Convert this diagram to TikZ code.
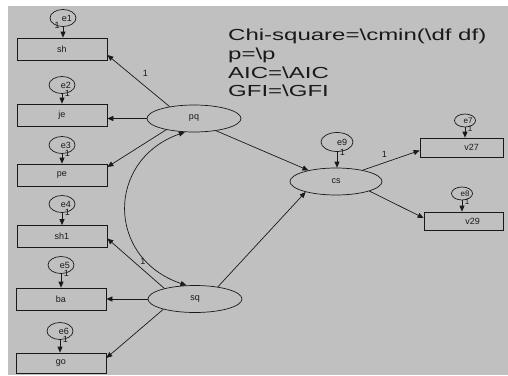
\documentclass[tikz,border=0pt]{standalone}
\usepackage{fontspec}
\setmainfont{Liberation Sans}
\newfontfamily\statfont[FakeStretch=1.5]{Liberation Sans}
\usetikzlibrary{arrows.meta,shapes.geometric}
\definecolor{panel}{RGB}{192,192,192}
\definecolor{ink}{RGB}{25,25,25}

\begin{document}
\begin{tikzpicture}[x=1pt,y=-1pt,
  every node/.style={font=\fontsize{9}{10}\selectfont, text=ink, inner sep=0pt},
  obs/.style={draw=ink, line width=0.7pt, rectangle, minimum width=90pt, minimum height=22pt},
  lat/.style={draw=ink, line width=0.7pt, ellipse, minimum width=94pt, minimum height=27pt},
  err/.style={draw=ink, line width=0.7pt, ellipse, minimum width=26pt, minimum height=17pt},
  smallerr/.style={err, minimum width=20pt, minimum height=13pt, font=\fontsize{8}{9}\selectfont},
  link/.style={draw=ink, line width=0.7pt, -{Triangle[length=6pt,width=5pt]}},
  both/.style={draw=ink, line width=0.7pt, {Triangle[length=6pt,width=5pt]}-{Triangle[length=6pt,width=5pt]}},
  wt/.style={inner sep=1pt},
  ewt/.style={inner sep=0pt, anchor=west, xshift=2.5pt, yshift=0pt}
]
\useasboundingbox (0,0) rectangle (508,375);
\fill[white] (0,0) rectangle (508,375);
\fill[panel] (8,6) rectangle (508,375);

% fit statistics
\node[anchor=north west, align=left, font=\statfont\fontsize{16}{18.7}\selectfont] (stats) at (228,29)
  {Chi-square=\textbackslash cmin(\textbackslash df df)\\p=\textbackslash p\\AIC=\textbackslash AIC\\GFI=\textbackslash GFI};

% observed variables
\node[obs] (sh)  at (62,49)    {sh};
\node[obs] (je)  at (62,115)   {je};
\node[obs] (pe)  at (62,175)   {pe};
\node[obs] (sh1) at (62,236.5) {sh1};
\node[obs] (ba)  at (61,299)   {ba};
\node[obs, minimum height=20pt] (go) at (61,363) {go};
\node[obs, minimum width=83pt, minimum height=19pt] (v27) at (461.5,147.5) {\hspace*{20pt}v27};
\node[obs, minimum width=79pt, minimum height=18pt] (v29) at (463.5,221) {\hspace*{18pt}v29};

% latent variables
\node[lat] (pq) at (194,118.5) {pq};
\node[lat] (sq) at (195,299) {sq};
\node[lat, minimum width=92pt] (cs) at (336,181.5) {cs};

% error terms
\node[err] (e1) at (63,18)  {\hspace*{8pt}e1};
\node[err] (e2) at (62,85)  {\hspace*{8pt}e2};
\node[err] (e3) at (62,145) {\hspace*{8pt}e3};
\node[err] (e4) at (62,204) {\hspace*{8pt}e4};
\node[err] (e5) at (61,265) {\hspace*{8pt}e5};
\node[err] (e6) at (60,331) {\hspace*{8pt}e6};
\node[err, minimum width=32pt, minimum height=19pt] (e9) at (337,142) {\hspace*{10pt}e9};
\node[smallerr] (e7) at (465,120.5) {\hspace*{6pt}e7};
\node[smallerr] (e8) at (462,193.5) {\hspace*{6pt}e8};

% error paths
\draw[link] (e1.south) -- (e1.south |- sh.north) node[wt, pos=0, anchor=east, xshift=-2pt, yshift=1pt] {1};
\draw[link] (e2.south) -- (e2.south |- je.north) node[ewt, pos=0] {1};
\draw[link] (e3.south) -- (e3.south |- pe.north) node[ewt, pos=0] {1};
\draw[link] (e4.south) -- (e4.south |- sh1.north) node[ewt, pos=0] {1};
\draw[link] (e5.south) -- (e5.south |- ba.north) node[ewt, pos=0] {1};
\draw[link] (e6.south) -- (e6.south |- go.north) node[ewt, pos=0] {1};
\draw[link] (e9.south) -- (e9.south |- cs.north) node[ewt, pos=0, yshift=-1pt] {1};
\draw[link] (e7.south) -- (e7.south |- v27.north) node[ewt, pos=0, yshift=-1.5pt, font=\fontsize{8}{9}\selectfont] {1};
\draw[link] (e8.south) -- (e8.south |- v29.north) node[ewt, pos=0, yshift=-1.5pt, font=\fontsize{8}{9}\selectfont] {1};

% measurement paths
\draw[link] (pq.154) -- ([yshift=-6pt]sh.east) node[wt, pos=0.5, above right=3pt] {1};
\draw[link] (pq.west) -- (pq.west -| je.east);
\draw[link] (pq.202) -- ([yshift=8pt]pe.east);
\draw[link] (sq.161) -- ([yshift=-2pt]sh1.east) node[wt, pos=0.55, right=6pt] {1};
\draw[link] (sq.west) -- (sq.west -| ba.east);
\draw[link] (sq.198) -- ([yshift=5pt]go.east);
\draw[link] (cs.23) -- ([yshift=-3pt]v27.west) node[wt, pos=0.38, above=4pt] {1};
\draw[link] (cs.-16) -- ([yshift=3pt]v29.west);

% structural paths
\draw[link] (pq.-29) -- (cs.158);
\draw[link] (sq.28) -- (cs.199);
\draw[both] (pq.236) .. controls (106,160) and (106,258) .. (sq.122);
\end{tikzpicture}
\end{document}
